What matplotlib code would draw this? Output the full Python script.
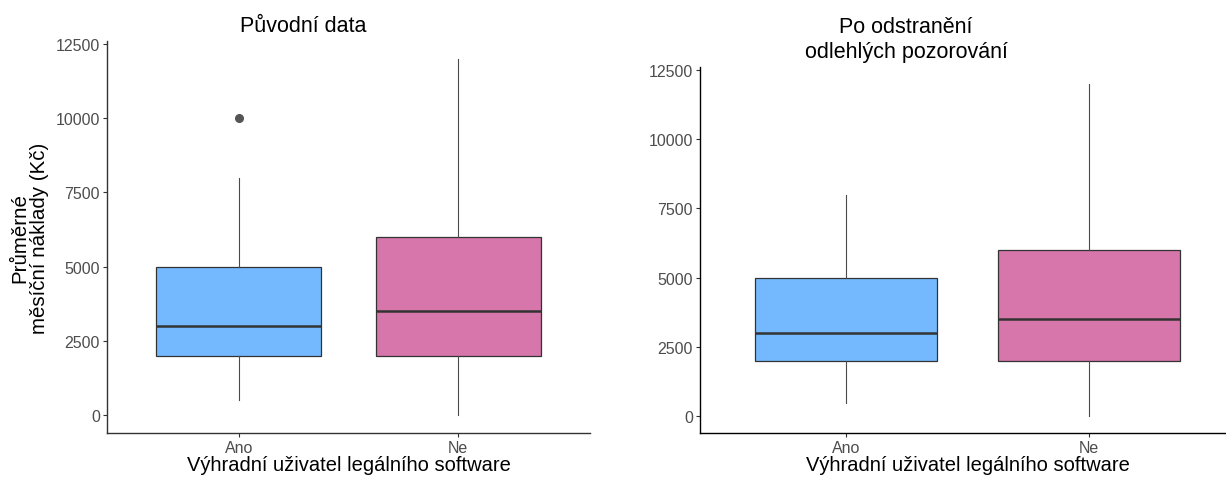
import matplotlib
matplotlib.use("Agg")
import matplotlib.pyplot as plt

plt.rcParams["font.family"] = ["Liberation Sans", "DejaVu Sans"]

# Data: box-plot summaries per group
categories = ["Ano", "Ne"]
fill_colors = ["#74B9FE", "#D676AA"]

q1 = [2000, 2000]
median = [3000, 3500]
q3 = [5000, 6000]
whisker_low = [500, 0]
whisker_high = [8000, 12000]
outliers_original = [[10000], []]
outliers_cleaned = [[], []]

y_ticks = [0, 2500, 5000, 7500, 10000, 12500]
x_title = "Výhradní uživatel legálního software"
y_title = "Průměrné\nměsíční náklady (Kč)"

W, H = 1226, 481
fig = plt.figure(figsize=(W / 100, H / 100), dpi=100)


def px_axes(left, right, top, bottom):
    return fig.add_axes([left / W, (H - bottom) / H, (right - left) / W, (bottom - top) / H])


def draw_panel(ax, outliers, spine_color):
    stats = []
    for i in range(len(categories)):
        stats.append(dict(med=median[i], q1=q1[i], q3=q3[i],
                          whislo=whisker_low[i], whishi=whisker_high[i],
                          fliers=outliers[i], label=categories[i]))
    bp = ax.bxp(stats, positions=[1, 2], widths=0.75, patch_artist=True,
                showcaps=False,
                boxprops=dict(edgecolor="#333333", linewidth=0.9),
                medianprops=dict(color="#333333", linewidth=1.8),
                whiskerprops=dict(color="#4a4a4a", linewidth=0.8),
                flierprops=dict(marker="o", markersize=5.5,
                                markerfacecolor="#555555",
                                markeredgecolor="#555555"))
    for patch, c in zip(bp["boxes"], fill_colors):
        patch.set_facecolor(c)
    ax.set_xlim(0.4, 2.6)
    ax.set_ylim(-600, 12600)
    ax.set_yticks(y_ticks)
    ax.set_yticklabels([str(v) for v in y_ticks])
    for s in ["top", "right"]:
        ax.spines[s].set_visible(False)
    for s in ["left", "bottom"]:
        ax.spines[s].set_color(spine_color)
        ax.spines[s].set_linewidth(1.0)
    ax.tick_params(axis="both", colors="#333333", labelcolor="#4D4D4D",
                   labelsize=11.5, length=3, width=0.8, pad=2)
    ax.set_xlabel(x_title, fontsize=14.5, color="black", labelpad=0)


ax1 = px_axes(107, 590, 42, 434)
draw_panel(ax1, outliers_original, "#333333")
ax1.set_ylabel(y_title, fontsize=14.8, color="black", labelpad=5,
               linespacing=1.05)

ax2 = px_axes(700, 1235, 68, 434)
draw_panel(ax2, outliers_cleaned, "black")

fig.text(303 / W, 1 - 27 / H, "Původní data", ha="center", va="center",
         fontsize=15.5)
fig.text(906 / W, 1 - 40 / H, "Po odstranění\nodlehlých pozorování",
         ha="center", va="center", fontsize=15.5, linespacing=1.3)

fig.savefig("out.png", dpi=100, facecolor="white")
